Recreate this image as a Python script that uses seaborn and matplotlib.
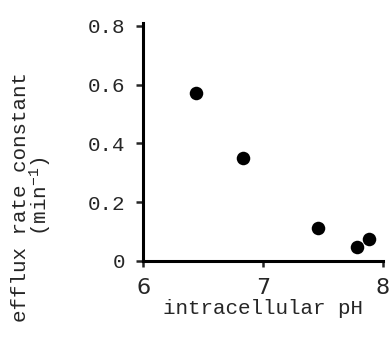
import matplotlib
matplotlib.use("Agg")
import matplotlib.pyplot as plt
import seaborn as sns
import pandas as pd

# values
ph     = [6.44, 6.83, 7.46, 7.78, 7.88]
efflux = [0.57, 0.35, 0.113, 0.046, 0.076]
x_ticks = [6, 7, 8]
y_ticks = [0, 0.2, 0.4, 0.6, 0.8]
y_tick_labels = ["0", "0.2", "0.4", "0.6", "0.8"]

df = pd.DataFrame({"ph": ph, "efflux": efflux})

sns.set_style("ticks")
plt.rcParams['font.family'] = ['Liberation Mono', 'DejaVu Sans Mono']
plt.rcParams['mathtext.default'] = 'regular'

fig = plt.figure(figsize=(3.9, 3.37), dpi=100)
ax = fig.add_axes([0.367, 0.226, 0.615, 0.706])

sns.scatterplot(data=df, x="ph", y="efflux", ax=ax, color="black",
                s=95, edgecolor="black", linewidth=0)

ax.set_xlim(6, 8)
ax.set_ylim(0, 0.81)
ax.set_xticks(x_ticks)
ax.set_xticklabels([str(t) for t in x_ticks], family="DejaVu Sans", fontsize=16)
ax.set_yticks(y_ticks)
ax.set_yticklabels(y_tick_labels)
ax.tick_params(axis="y", direction="out", length=5, width=1.8, labelsize=15, pad=8)
ax.tick_params(axis="x", direction="out", length=4, width=1.8, pad=8)

ax.set_xlabel("intracellular pH", fontsize=15, labelpad=1)
ax.set_ylabel("efflux rate constant\n(min$^{-1}$)", fontsize=15,
              linespacing=0.9)
# label sits low in the original, reaching below the x axis
ax.yaxis.set_label_coords(-0.37, 0.27)

sns.despine(ax=ax)
for side in ["left", "bottom"]:
    ax.spines[side].set_linewidth(2.2)
    ax.spines[side].set_color("black")

fig.savefig("out.png", dpi=100)
